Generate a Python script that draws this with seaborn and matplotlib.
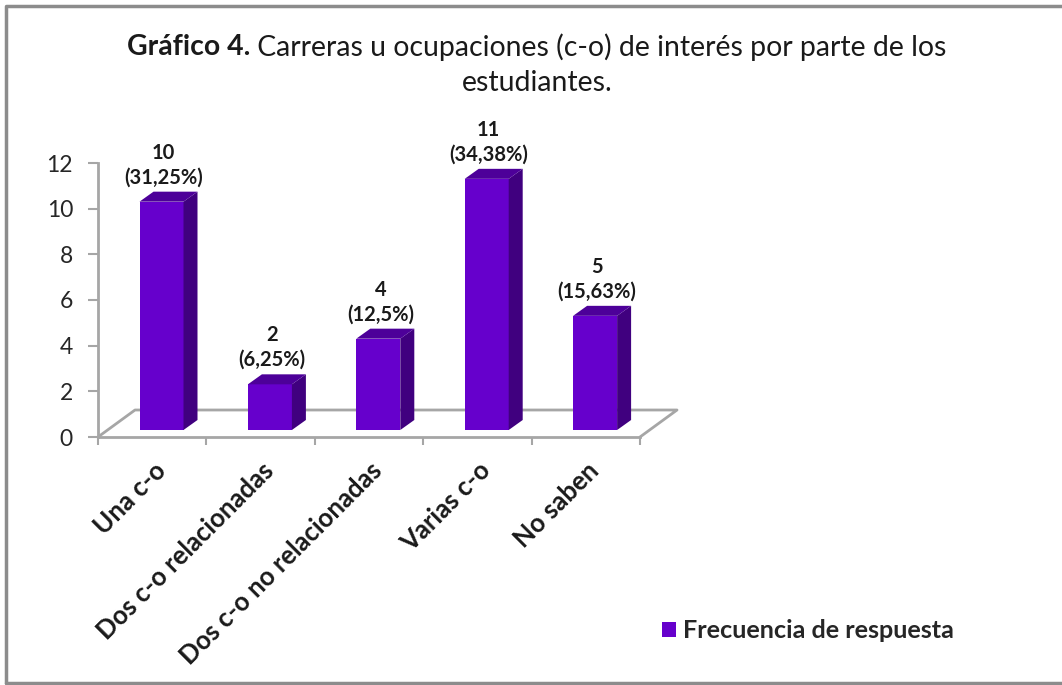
import matplotlib
matplotlib.use("Agg")
import matplotlib.pyplot as plt
import matplotlib.transforms as mtransforms
from matplotlib.patches import Polygon, Patch
from matplotlib.lines import Line2D
import seaborn as sns
import pandas as pd

categories = ["Una c-o", "Dos c-o relacionadas", "Dos c-o no relacionadas",
              "Varias c-o", "No saben"]
values = [10, 2, 4, 11, 5]
percent_labels = ["31,25%", "6,25%", "12,5%", "34,38%", "15,63%"]
series_name = "Frecuencia de respuesta"
yticks = [0, 2, 4, 6, 8, 10, 12]

FRONT = "#6600cc"
SIDE = "#40007f"
TOP = "#4d0099"
GRID = "#a6a6a6"
FONT = ["Lato", "DejaVu Sans"]

sns.set_theme(style="white")
plt.rcParams["font.family"] = FONT

W, H = 1062, 685
fig = plt.figure(figsize=(W / 100, H / 100), dpi=100)

# axes spans pixels x 98..640, y 163..437
x0p, x1p, ytp, ybp = 98, 640, 163, 437
ax = fig.add_axes([x0p / W, 1 - ybp / H, (x1p - x0p) / W, (ybp - ytp) / H])

df = pd.DataFrame({"cat": categories, "val": values})
bar_w = 44 / 108.4
sns.barplot(data=df, x="cat", y="val", color=FRONT, width=bar_w, saturation=1,
            ax=ax, order=categories)

ax.set_xlim(-0.5, len(categories) - 0.5)
ax.set_ylim(0, 12)

pxu_x = (x1p - x0p) / len(categories)
pxu_y = (ybp - ytp) / 12.0

# front face offset into depth
off_px = (9.3, 7.0)
offset = mtransforms.ScaledTranslation(off_px[0] / 100, off_px[1] / 100, fig.dpi_scale_trans)
tr = ax.transData + offset
for p in ax.patches:
    p.set_transform(tr)
    p.set_clip_on(False)
    p.set_edgecolor("none")
    p.set_zorder(3)

dxb = 14 / pxu_x
dyb = 10 / pxu_y
for i, v in enumerate(values):
    xl = i - bar_w / 2
    xr = i + bar_w / 2
    side = Polygon([(xr, 0), (xr, v), (xr + dxb, v + dyb), (xr + dxb, dyb)],
                   closed=True, facecolor=SIDE, edgecolor="none",
                   transform=tr, clip_on=False, zorder=3)
    top = Polygon([(xl, v), (xr, v), (xr + dxb, v + dyb), (xl + dxb, v + dyb)],
                  closed=True, facecolor=TOP, edgecolor="none",
                  transform=tr, clip_on=False, zorder=3)
    ax.add_patch(side)
    ax.add_patch(top)
    ax.annotate(f"{v}\n({percent_labels[i]})",
                xy=(i + 2 / pxu_x, v + dyb), xycoords=tr,
                xytext=(0, 3), textcoords="offset points",
                ha="center", va="bottom", fontsize=14.5, fontweight="bold",
                color="#1a1a1a", linespacing=1.3, multialignment="center",
                annotation_clip=False, zorder=5)

# floor outline
fdx = 37 / pxu_x
fdy = 27 / pxu_y
xa, xb = -0.5, len(categories) - 0.5
floor = Line2D([xa, xa + fdx, xb + fdx, xb], [0, fdy, fdy, 0],
               color=GRID, lw=2, clip_on=False, zorder=2)
ax.add_line(floor)

for s in ["top", "right"]:
    ax.spines[s].set_visible(False)
for s in ["left", "bottom"]:
    ax.spines[s].set_color(GRID)
    ax.spines[s].set_linewidth(2)

ax.set_yticks(yticks)
ax.set_yticklabels([str(t) for t in yticks])
ax.tick_params(axis="y", direction="out", length=7, width=1.5, color=GRID,
               labelsize=16.5, labelcolor="#262626", pad=11, left=True)
ax.set_xticks(range(len(categories)))
ax.set_xticks([k - 0.5 for k in range(len(categories) + 1)], minor=True)
ax.tick_params(axis="x", which="major", length=0, pad=15)
ax.tick_params(axis="x", which="minor", direction="out", length=6, width=1.5,
               color=GRID, bottom=True)
ax.set_xticklabels(categories, rotation=45, ha="right", rotation_mode="anchor",
                   fontsize=18.5, fontweight="bold", color="#1a1a1a")
for lab in ax.get_xticklabels():
    lab.set_transform(lab.get_transform() +
                      mtransforms.ScaledTranslation(1 / 100, 0, fig.dpi_scale_trans))
ax.set_xlabel("")
ax.set_ylabel("")
ax.grid(False)

# title with mixed weights
renderer = fig.canvas.get_renderer()
TS = 20.4
t_bold = fig.text(0, 1 - 47 / H, "Gráfico 4.", fontsize=TS, fontweight="bold",
                  va="center", ha="left", color="#1a1a1a")
t_reg = fig.text(0, 1 - 47 / H, " Carreras u ocupaciones (c-o) de interés por parte de los",
                 fontsize=TS, va="center", ha="left", color="#1a1a1a")
wb = t_bold.get_window_extent(renderer).width
wr = t_reg.get_window_extent(renderer).width
left = 537 - (wb + wr) / 2
t_bold.set_x(left / W)
t_reg.set_x((left + wb) / W)
fig.text(537 / W, 1 - 83 / H, "estudiantes.", fontsize=TS, va="center", ha="center",
         color="#1a1a1a")

# legend
handle = Patch(facecolor=FRONT, edgecolor="none", label=series_name)
fig.legend(handles=[handle], loc="center left",
           bbox_to_anchor=(649 / W, 1 - 631 / H), frameon=False,
           prop={"size": 18.2, "weight": "bold"}, handlelength=0.58,
           handleheight=0.58, handletextpad=0.28, borderpad=0)

# outer border
fig.add_artist(Line2D([6 / W, 6 / W, 1.01], [1 - 683 / H, 1 - 6 / H, 1 - 6 / H],
                      transform=fig.transFigure, color="#8c8c8c", lw=2.5))
fig.add_artist(Line2D([6 / W, 1.01], [1 - 683 / H, 1 - 683 / H],
                      transform=fig.transFigure, color="#8c8c8c", lw=2.5))

fig.savefig("out.png", dpi=100)
